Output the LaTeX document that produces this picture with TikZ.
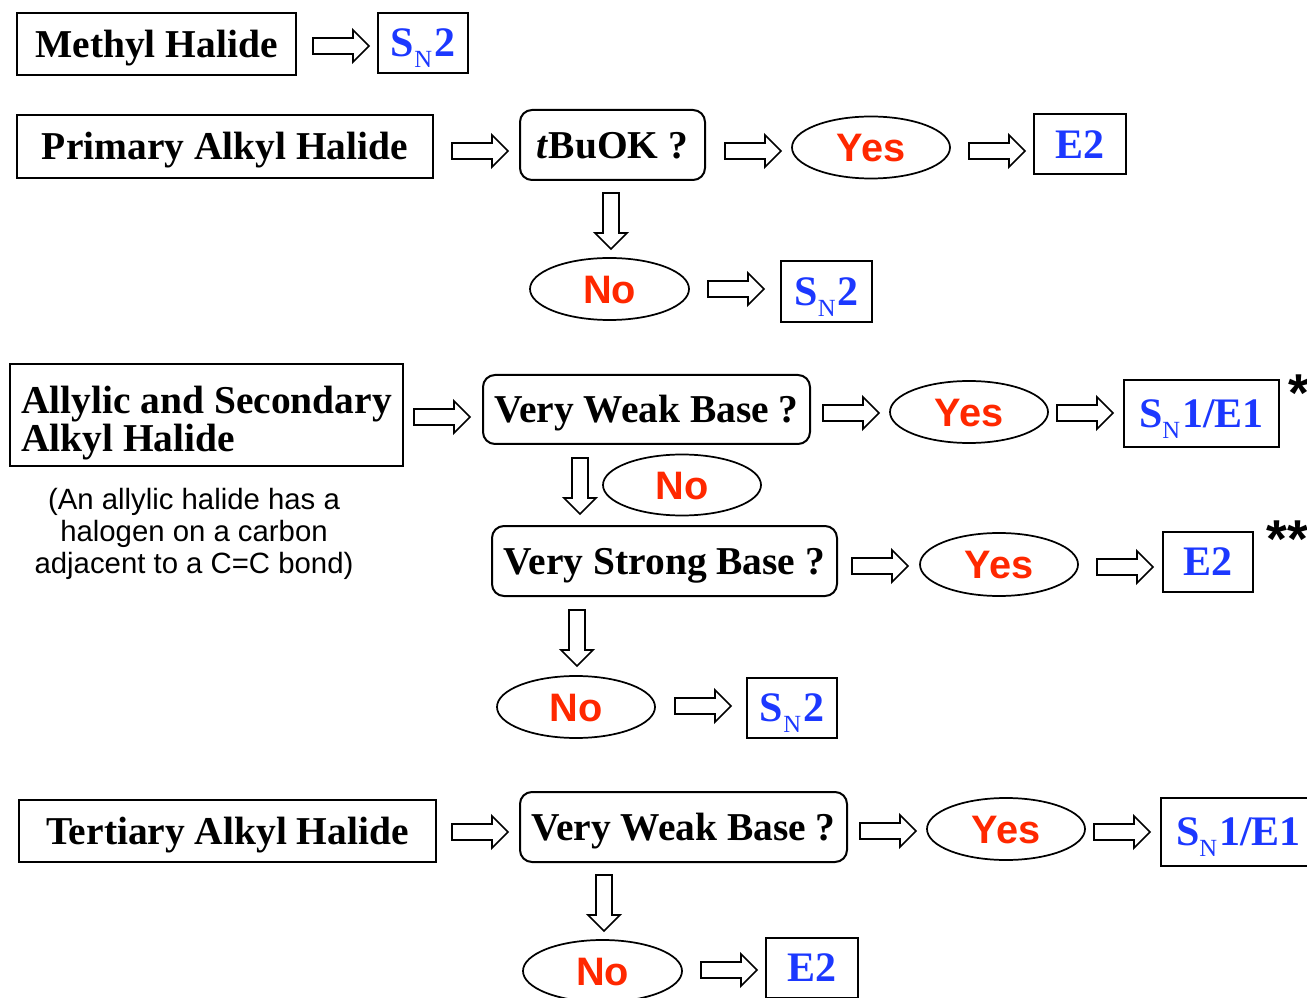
\documentclass[tikz,border=0pt]{standalone}
\usepackage{fontspec}
\setmainfont{Liberation Serif}
\newfontfamily\hv{Liberation Sans}
\usetikzlibrary{shapes.geometric}
\definecolor{sblue}{RGB}{28,56,255}
\definecolor{sred}{RGB}{255,40,0}
\newcommand\SNsub{\textbf{S}\raisebox{-8pt}{\fontsize{18.5}{18.5}\selectfont\mdseries N}\kern1.5pt}
\tikzset{
  sz/.style 2 args={minimum width=#1*0.75pt, minimum height=#2*0.75pt},
  box/.style={draw, line width=1.5pt, inner sep=0pt, text height=19.6pt, text depth=0pt,
    font=\bfseries\fontsize{29.6}{27.75}\selectfont},
  qbox/.style={box, rounded corners=9pt},
  res/.style={box, text=sblue, text height=20.8pt, font=\bfseries\fontsize{31.5}{31.5}\selectfont},
  oval/.style={ellipse, draw, line width=1.3pt, inner sep=0pt, text=sred, text height=21.5pt, text depth=0pt,
    font=\hv\bfseries\fontsize{29.8}{29.8}\selectfont},
  note/.style={align=center, inner sep=0pt, font=\hv\fontsize{22}{24}\selectfont},
  star/.style={anchor=base west, inner sep=0pt, font=\hv\bfseries\fontsize{40}{40}\selectfont},
  arrowline/.style={draw, line width=1.3pt, fill=white, line join=miter},
  pics/barrow/.style={code={\path[arrowline] (-28,-8) -- (12,-8) -- (12,-16) -- (28,0) -- (12,16) -- (12,8) -- (-28,8) -- cycle;}}
}
\begin{document}
\begin{tikzpicture}[x=0.75pt,y=-0.75pt]
\path[use as bounding box] (0,0) rectangle (1307,998);
\clip (0,0) rectangle (1307,998);
% row 1
\node[box, sz={279}{62}] (m1) at (156.5,44.5) {Methyl Halide};
\node[res, sz={90}{60}] (m2) at (423,43) {\SNsub2};
\pic (r1) at (341,46) {barrow};
% row 2
\node[box, sz={416}{63}] (p1) at (225,146.5) {Primary Alkyl Halide};
\node[qbox, sz={185}{70}] (p2) at (612.5,145) {\textit{t}BuOK ?};
\node[oval, sz={158}{62}] (p3) at (871,147.5) {Yes};
\node[res, sz={92}{60}] (p4) at (1080,144.5) {E2};
\node[oval, sz={159}{62}] (p5) at (609.5,289) {No};
\node[res, sz={91}{61}] (p6) at (826.5,291.5) {\SNsub2};
\pic (r2) at (480,151) {barrow};
\pic (r3) at (753,151) {barrow};
\pic (r4) at (997,151) {barrow};
\pic[rotate=-90] (r5) at (611,221) {barrow};
\pic (r6) at (736,289) {barrow};
% row 3
\node[box, sz={393}{102}, text height=19.6pt, text depth=22.5pt] (a1) at (206.5,415)
  {\begin{tabular}[t]{@{}l@{}}Allylic and Secondary\\Alkyl Halide\end{tabular}};
\node[note] (n1) at (194,534) {(An allylic halide has a\\halogen on a carbon\\adjacent to a C=C bond)};
\node[qbox, sz={327}{69}] (a2) at (646.5,409.5) {Very Weak Base ?};
\node[oval, sz={158}{62}] (a3) at (969,412) {Yes};
\node[res, sz={155}{67}] (a4) at (1201.5,414) {\SNsub1/E1};
\node[oval, sz={158}{61}] (a5) at (682,485) {No};
\node[qbox, sz={345}{70}] (a6) at (664.5,561) {Very Strong Base ?};
\node[oval, sz={158}{63}] (a7) at (999,564.5) {Yes};
\node[res, sz={90}{60}] (a8) at (1208,562) {E2};
\node[oval, sz={158}{62}] (a9) at (576,707) {No};
\node[res, sz={90}{60}] (a10) at (792,708) {\SNsub2};
\node[star] (s1) at (1288,412) {*};
\node[star] (s2) at (1266,557) {**};
\pic (r7) at (442,417) {barrow};
\pic (r8) at (851,413) {barrow};
\pic (r9) at (1085,413) {barrow};
\pic[rotate=-90] (r10) at (580,486) {barrow};
\pic (r11) at (880,566) {barrow};
\pic (r12) at (1125,567) {barrow};
\pic[rotate=-90] (r13) at (577,638) {barrow};
\pic (r14) at (703,706) {barrow};
% row 4
\node[box, sz={417}{62}] (t1) at (227.5,831) {Tertiary Alkyl Halide};
\node[qbox, sz={327}{70}] (t2) at (683.5,827) {Very Weak Base ?};
\node[oval, sz={158}{62}] (t3) at (1006,829) {Yes};
\node[res, sz={155}{68}] (t4) at (1238.5,831.5) {\SNsub1/E1};
\node[oval, sz={159}{62}] (t5) at (602.5,971) {No};
\node[res, sz={92}{60}] (t6) at (812,968) {E2};
\pic (r15) at (480,832) {barrow};
\pic (r16) at (888,831) {barrow};
\pic (r17) at (1122,832) {barrow};
\pic[rotate=-90] (r18) at (604,903) {barrow};
\pic (r19) at (729,970) {barrow};
\end{tikzpicture}
\end{document}
